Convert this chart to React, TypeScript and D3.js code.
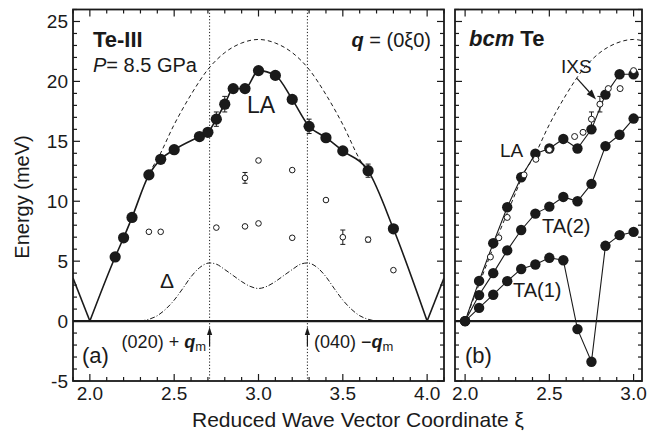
import React from "react";
import * as d3 from "d3";

const W = 668;
const H = 433;
const FONT = "'Liberation Sans', Arial, Helvetica, sans-serif";
const INK = "#1a1a1a";

// (a) Te-III, LA branch (filled circles)
const laX = [2.15, 2.2, 2.25, 2.35, 2.42, 2.5, 2.65, 2.7, 2.75, 2.8, 2.85, 2.92, 3.0, 3.1, 3.2, 3.3, 3.4, 3.5, 3.65, 3.8];
const laE = [5.35, 6.95, 8.65, 12.2, 13.5, 14.3, 15.4, 15.75, 16.85, 18.1, 19.4, 19.4, 20.9, 20.5, 18.5, 16.25, 15.3, 14.2, 12.55, 7.7];
const laErr = [0, 0, 0, 0, 0, 0, 0, 0, 0.6, 0.65, 0, 0, 0, 0, 0, 0.6, 0, 0, 0.55, 0];

// (a) other excitations (open circles)
const opX = [2.35, 2.42, 2.75, 2.92, 2.92, 3.0, 3.0, 3.2, 3.2, 3.4, 3.5, 3.65, 3.8];
const opE = [7.45, 7.45, 7.8, 7.9, 11.95, 8.15, 13.4, 6.95, 12.6, 10.1, 7.0, 6.8, 4.25];
const opErr = [0, 0, 0, 0, 0.45, 0, 0, 0, 0, 0, 0.6, 0.2, 0];

// folded LA branch at the zone edges
const foldLX = [1.9, 2.0];
const foldLE = [3.6, 0];
const foldRX = [4.0, 4.1];
const foldRE = [0, 3.6];

// dashed dispersion (bcc reference)
const dispX = [2.0, 2.1, 2.2, 2.3, 2.35, 2.4, 2.5, 2.6, 2.7, 2.8, 2.9, 3.0, 3.1, 3.2, 3.3, 3.4, 3.5, 3.6, 3.65];
const dispE = [0, 3.7, 7.3, 10.7, 12.4, 13.5, 16.4, 18.9, 21.0, 22.4, 23.2, 23.5, 23.2, 22.4, 21.0, 18.9, 16.4, 13.5, 12.4];

// Delta (dash-dot)
const deltaX = [2.3, 2.35, 2.4, 2.45, 2.5, 2.55, 2.6, 2.65, 2.71, 2.75, 2.8, 2.85, 2.9, 2.95, 3.0, 3.05, 3.1, 3.15, 3.2, 3.25, 3.29, 3.35, 3.4, 3.45, 3.5, 3.55, 3.6, 3.65, 3.7];
const deltaE = [0, 0.15, 0.45, 1.0, 1.75, 2.7, 3.7, 4.45, 4.85, 4.75, 4.3, 3.8, 3.3, 2.9, 2.72, 2.9, 3.3, 3.8, 4.3, 4.75, 4.85, 4.45, 3.7, 2.7, 1.75, 1.0, 0.45, 0.15, 0];

const qmLines = [2.71, 3.29];

// (b) bcm Te
const bcmX = [2.0, 2.083, 2.167, 2.25, 2.333, 2.417, 2.5, 2.583, 2.667, 2.75, 2.833, 2.917, 3.0];
const bcmLA = [0, 3.35, 6.5, 9.5, 12.0, 13.97, 14.4, 15.2, 14.4, 16.0, 18.9, 20.6, 20.6];
const bcmTA2 = [0, 2.17, 4.0, 5.9, 7.6, 8.97, 9.55, 10.36, 10.0, 11.45, 14.6, 15.55, 16.9];
const bcmTA1 = [0, 1.1, 2.2, 3.33, 4.35, 4.72, 5.28, 5.08, -0.67, -3.39, 6.28, 7.17, 7.44];

// ticks
const yMajor = [-5, 0, 5, 10, 15, 20, 25];
const yMinor = d3.range(-5, 27, 1);
const xaMajor = [2.0, 2.5, 3.0, 3.5, 4.0];
const xaMinor = d3.range(19, 42).map((v) => v / 10);
const xbMajor = [2.0, 2.5, 3.0];
const xbMinor = d3.range(20, 31).map((v) => v / 10);

const y = d3.scaleLinear().domain([-5, 26]).range([381, 9.5]);
const xa = d3.scaleLinear().domain([1.9, 4.1]).range([73, 444]);
const xb = d3.scaleLinear().domain([1.94, 3.05]).range([455, 642]);

const pts = (xs: number[], es: number[]) => xs.map((v, i) => [v, es[i]] as [number, number]);

function Frame({ x, xMajor, xMinor, yLabels }: any) {
  const [l, r] = x.range();
  const b = y(-5);
  const t = y(26);
  return (
    <g stroke={INK}>
      {xMinor.map((v: number) => {
        const len = xMajor.some((m: number) => Math.abs(m - v) < 1e-6) ? 7 : 4;
        const px = x(v);
        return (
          <g key={"x" + v}>
            <line x1={px} x2={px} y1={b} y2={b - len} strokeWidth={1.2} />
            <line x1={px} x2={px} y1={t} y2={t + len} strokeWidth={1.2} />
          </g>
        );
      })}
      {yMinor.map((v) => {
        const len = yMajor.includes(v) ? 7 : 4;
        const py = y(v);
        return (
          <g key={"y" + v}>
            <line x1={l} x2={l + len} y1={py} y2={py} strokeWidth={1.2} />
            <line x1={r} x2={r - len} y1={py} y2={py} strokeWidth={1.2} />
          </g>
        );
      })}
      <rect x={l} y={t} width={r - l} height={b - t} fill="none" strokeWidth={1.8} />
      <g stroke="none" fill={INK} fontSize={19} fontFamily={FONT}>
        {xMajor.map((v: number) => (
          <text key={"xl" + v} x={x(v)} y={400} textAnchor="middle">
            {v.toFixed(1)}
          </text>
        ))}
        {yLabels &&
          yMajor.map((v) => (
            <text key={"yl" + v} x={l - 5} y={y(v) + 6.5} textAnchor="end">
              {v}
            </text>
          ))}
      </g>
    </g>
  );
}

function ErrBar({ px, py, lo, hi }: any) {
  return (
    <g stroke={INK} strokeWidth={1}>
      <line x1={px} x2={px} y1={lo} y2={hi} />
      <line x1={px - 2.5} x2={px + 2.5} y1={lo} y2={lo} />
      <line x1={px - 2.5} x2={px + 2.5} y1={hi} y2={hi} />
    </g>
  );
}

function Arrow({ x1, y1, x2, y2, len = 8, half = 3 }: any) {
  const a = Math.atan2(y2 - y1, x2 - x1);
  const bx = x2 - len * Math.cos(a);
  const by = y2 - len * Math.sin(a);
  const nx = -Math.sin(a) * half;
  const ny = Math.cos(a) * half;
  return (
    <g>
      <line x1={x1} y1={y1} x2={bx} y2={by} stroke={INK} strokeWidth={1.2} />
      <path d={`M${x2},${y2}L${bx + nx},${by + ny}L${bx - nx},${by - ny}Z`} fill={INK} />
    </g>
  );
}

export default function App() {
  const la = d3.line<[number, number]>().x((d) => xa(d[0])).y((d) => y(d[1]));
  const laSmooth = d3.line<[number, number]>().x((d) => xa(d[0])).y((d) => y(d[1])).curve(d3.curveMonotoneX);
  const lb = d3.line<[number, number]>().x((d) => xb(d[0])).y((d) => y(d[1]));
  const lbSmooth = d3.line<[number, number]>().x((d) => xb(d[0])).y((d) => y(d[1])).curve(d3.curveMonotoneX);

  const mainLA = pts([2.0, ...laX, 4.0], [0, ...laE, 0]);
  const dispA = pts(dispX, dispE).filter((d) => d[0] >= 2.35);
  const dispB = pts(dispX, dispE).filter((d) => d[0] <= 3.1);
  const openB = pts(laX, laE).filter((d) => d[0] <= 3.0);

  const arrowTop = y(-0.5);
  const arrowBot = y(-2.1);

  return (
    <svg width={W} height={H} style={{ position: "absolute", left: 0, top: 0, background: "#fff" }} fontFamily={FONT}>
      <defs>
        <clipPath id="clipA">
          <rect x={73} y={y(26)} width={371} height={y(-5) - y(26)} />
        </clipPath>
        <clipPath id="clipB">
          <rect x={455} y={y(26)} width={187} height={y(-5) - y(26)} />
        </clipPath>
      </defs>

      {/* panel (a) */}
      <g clipPath="url(#clipA)">
        {qmLines.map((q) => (
          <line key={q} x1={xa(q)} x2={xa(q)} y1={y(26)} y2={y(-5)} stroke={INK} strokeWidth={1} strokeDasharray="1.2,2" />
        ))}
        <line x1={73} x2={444} y1={y(0)} y2={y(0)} stroke={INK} strokeWidth={2.2} />
        <path d={laSmooth(dispA) || ""} fill="none" stroke={INK} strokeWidth={1} strokeDasharray="4,3" />
        <path d={laSmooth(pts(deltaX, deltaE)) || ""} fill="none" stroke={INK} strokeWidth={1} strokeDasharray="5,2,1,2" />
        <path d={la(pts(foldLX, foldLE)) || ""} fill="none" stroke={INK} strokeWidth={1.6} />
        <path d={la(pts(foldRX, foldRE)) || ""} fill="none" stroke={INK} strokeWidth={1.6} />
        <path d={laSmooth(mainLA) || ""} fill="none" stroke={INK} strokeWidth={1.6} />
        {laX.map((v, i) =>
          laErr[i] ? <ErrBar key={"le" + i} px={xa(v)} lo={y(laE[i] - laErr[i])} hi={y(laE[i] + laErr[i])} /> : null
        )}
        {laX.map((v, i) => (
          <circle key={"la" + i} cx={xa(v)} cy={y(laE[i])} r={5.6} fill={INK} />
        ))}
        {opX.map((v, i) =>
          opErr[i] ? <ErrBar key={"oe" + i} px={xa(v)} lo={y(opE[i] - opErr[i])} hi={y(opE[i] + opErr[i])} /> : null
        )}
        {opX.map((v, i) => (
          <circle key={"op" + i} cx={xa(v)} cy={y(opE[i])} r={2.8} fill="#fff" stroke={INK} strokeWidth={1} />
        ))}
      </g>
      <Frame x={xa} xMajor={xaMajor} xMinor={xaMinor} yLabels />
      {qmLines.map((q) => (
        <Arrow key={"ar" + q} x1={xa(q)} y1={arrowBot} x2={xa(q)} y2={arrowTop} len={8} half={2.6} />
      ))}

      <g fill={INK}>
        <text x={93} y={47} fontSize={22} fontWeight="bold">Te-III</text>
        <text x={93} y={72} fontSize={20}>
          <tspan fontStyle="italic">P</tspan>= 8.5 GPa
        </text>
        <text x={431} y={47} fontSize={20} textAnchor="end">
          <tspan fontWeight="bold" fontStyle="italic">q</tspan> = (0ξ0)
        </text>
        <text x={247} y={113} fontSize={23}>LA</text>
        <text x={160} y={288} fontSize={21}>Δ</text>
        <text x={82} y={363} fontSize={22}>(a)</text>
        <text x={206} y={348} fontSize={18} textAnchor="end">
          (020) + <tspan fontWeight="bold" fontStyle="italic">q</tspan>
          <tspan fontSize={13} dy={3}>m</tspan>
        </text>
        <text x={314} y={348} fontSize={18}>
          (040) −<tspan fontWeight="bold" fontStyle="italic">q</tspan>
          <tspan fontSize={13} dy={3}>m</tspan>
        </text>
      </g>

      {/* panel (b) */}
      <g clipPath="url(#clipB)">
        <line x1={455} x2={642} y1={y(0)} y2={y(0)} stroke={INK} strokeWidth={2.2} />
        <path d={lbSmooth(dispB) || ""} fill="none" stroke={INK} strokeWidth={1} strokeDasharray="4,3" />
        {[bcmLA, bcmTA2, bcmTA1].map((s, k) => (
          <path key={"bl" + k} d={lb(pts(bcmX, s)) || ""} fill="none" stroke={INK} strokeWidth={1.1} />
        ))}
        {[bcmLA, bcmTA2, bcmTA1].map((s, k) =>
          bcmX.map((v, i) => <circle key={"b" + k + "-" + i} cx={xb(v)} cy={y(s[i])} r={5.2} fill={INK} />)
        )}
        {laX.map((v, i) =>
          laErr[i] && v <= 3.0 ? <ErrBar key={"be" + i} px={xb(v)} lo={y(laE[i] - laErr[i])} hi={y(laE[i] + laErr[i])} /> : null
        )}
        {openB.map((d, i) => (
          <circle key={"bo" + i} cx={xb(d[0])} cy={y(d[1])} r={3} fill="#fff" stroke={INK} strokeWidth={1} />
        ))}
      </g>
      <Frame x={xb} xMajor={xbMajor} xMinor={xbMinor} yLabels={false} />

      <g fill={INK}>
        <text x={469} y={46} fontSize={22} fontWeight="bold">
          <tspan fontStyle="italic">bcm</tspan> Te
        </text>
        <text x={561} y={73} fontSize={19}>IXS</text>
        <text x={500} y={157} fontSize={19}>LA</text>
        <text x={542} y={233} fontSize={20}>TA(2)</text>
        <text x={513} y={297} fontSize={20}>TA(1)</text>
        <text x={465} y={363} fontSize={22}>(b)</text>
      </g>
      <Arrow x1={xb(2.664)} y1={y(20.25)} x2={xb(2.777)} y2={y(18.5)} len={10} half={3.5} />

      {/* axis titles */}
      <text x={358} y={427} fontSize={21} textAnchor="middle" fill={INK}>
        Reduced Wave Vector Coordinate ξ
      </text>
      <text transform="translate(29,197) rotate(-90)" fontSize={20} textAnchor="middle" fill={INK}>
        Energy (meV)
      </text>
    </svg>
  );
}
